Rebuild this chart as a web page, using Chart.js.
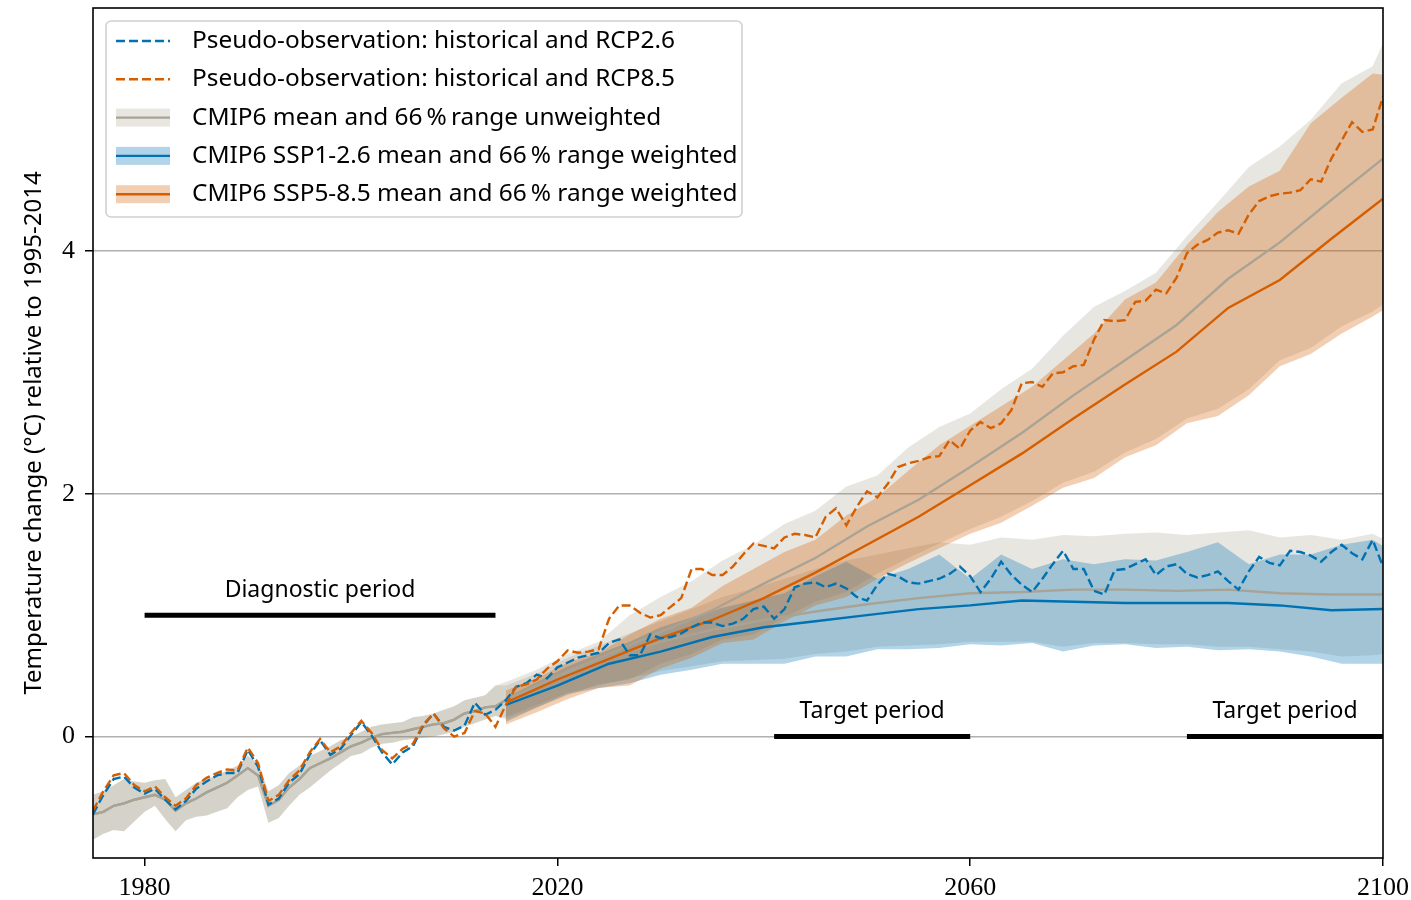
<!DOCTYPE html>
<html>
<head>
<meta charset="utf-8">
<title>Temperature change</title>
<script src="https://cdn.jsdelivr.net/npm/chart.js@4.4.1/dist/chart.umd.min.js"></script>
<style>
  html, body { margin: 0; padding: 0; background: #fff; }
  canvas { display: block; }
</style>
</head>
<body>
<canvas id="chart" width="1411" height="900"></canvas>
<script>
// Jahre / Achsen
function yearsFrom(start, end, step) {
    const out = [];
    for (let y = start; y <= end; y += step) out.push(y);
    return out;
}
const HIST_YEARS = yearsFrom(1975, 2014, 1);
const OBS_YEARS = yearsFrom(1975, 2100, 1);
const MEAN_YEARS = yearsFrom(2015, 2100, 5);
const BAND_YEARS = [2015, 2018, 2021, 2024, 2027, 2030, 2033, 2036, 2039, 2042,
                    2045, 2048, 2051, 2054, 2057, 2060, 2063, 2066, 2069, 2072,
                    2075, 2078, 2081, 2084, 2087, 2090, 2093, 2096, 2099, 2100];
const X_TICKS = [1980, 2020, 2060, 2100];
const Y_TICKS = [0, 2, 4];

// CMIP6 unweighted, historical part (shared by both scenarios)
const GRAY_HIST_MEAN = [-0.64, -0.62, -0.57, -0.55, -0.52, -0.50, -0.48, -0.52, -0.61, -0.55,
                        -0.51, -0.46, -0.42, -0.38, -0.32, -0.26, -0.32, -0.57, -0.52, -0.42,
                        -0.35, -0.26, -0.22, -0.18, -0.13, -0.08, -0.05, -0.01, 0.02, 0.03,
                        0.04, 0.06, 0.08, 0.10, 0.11, 0.14, 0.19, 0.21, 0.24, 0.25];
const GRAY_HIST_HI = [-0.48, -0.45, -0.40, -0.35, -0.37, -0.38, -0.36, -0.35, -0.50, -0.44,
                      -0.38, -0.35, -0.32, -0.28, -0.24, -0.16, -0.22, -0.45, -0.40, -0.30,
                      -0.24, -0.16, -0.12, -0.08, -0.03, 0.00, 0.04, 0.08, 0.10, 0.11,
                      0.12, 0.16, 0.17, 0.19, 0.22, 0.25, 0.30, 0.32, 0.34, 0.42];
const GRAY_HIST_LO = [-0.85, -0.80, -0.77, -0.78, -0.70, -0.62, -0.57, -0.68, -0.78, -0.69,
                      -0.66, -0.65, -0.62, -0.59, -0.50, -0.44, -0.41, -0.71, -0.67, -0.57,
                      -0.48, -0.42, -0.35, -0.28, -0.22, -0.16, -0.14, -0.09, -0.06, -0.05,
                      -0.03, -0.02, -0.01, 0.00, 0.02, 0.04, 0.08, 0.11, 0.14, 0.17];

// Pseudo-observations 1975-2100
const OBS_RCP26 = [-0.64, -0.48, -0.35, -0.33, -0.42, -0.47, -0.43, -0.52, -0.60, -0.53,
                   -0.43, -0.37, -0.32, -0.30, -0.30, -0.11, -0.25, -0.56, -0.51, -0.38,
                   -0.31, -0.15, -0.03, -0.15, -0.10, 0.01, 0.12, 0.01, -0.13, -0.23,
                   -0.13, -0.08, 0.09, 0.19, 0.08, 0.05, 0.09, 0.28, 0.18, 0.22,
                   0.30, 0.41, 0.44, 0.51, 0.48, 0.57, 0.61, 0.65, 0.67, 0.69,
                   0.77, 0.80, 0.67, 0.67, 0.84, 0.81, 0.82, 0.85, 0.90, 0.94,
                   0.94, 0.91, 0.93, 0.97, 1.05, 1.07, 0.97, 1.05, 1.23, 1.26,
                   1.27, 1.23, 1.26, 1.22, 1.15, 1.12, 1.25, 1.34, 1.32, 1.27,
                   1.26, 1.28, 1.30, 1.34, 1.40, 1.32, 1.19, 1.30, 1.44, 1.33,
                   1.25, 1.19, 1.30, 1.42, 1.53, 1.38, 1.38, 1.20, 1.17, 1.37,
                   1.38, 1.42, 1.46, 1.33, 1.40, 1.42, 1.34, 1.31, 1.33, 1.36,
                   1.28, 1.21, 1.36, 1.48, 1.43, 1.41, 1.53, 1.52, 1.49, 1.44,
                   1.52, 1.58, 1.51, 1.46, 1.62, 1.40];
const OBS_RCP85 = [-0.61, -0.45, -0.32, -0.30, -0.40, -0.45, -0.41, -0.50, -0.57, -0.51,
                   -0.40, -0.34, -0.30, -0.27, -0.28, -0.09, -0.22, -0.53, -0.48, -0.36,
                   -0.28, -0.13, -0.02, -0.13, -0.08, 0.03, 0.13, 0.03, -0.11, -0.18,
                   -0.10, -0.06, 0.10, 0.19, 0.07, 0.00, 0.03, 0.21, 0.19, 0.08,
                   0.26, 0.41, 0.43, 0.47, 0.56, 0.62, 0.71, 0.69, 0.70, 0.72,
                   0.97, 1.08, 1.08, 1.02, 0.98, 1.00, 1.07, 1.14, 1.38, 1.38,
                   1.33, 1.33, 1.40, 1.50, 1.59, 1.57, 1.55, 1.64, 1.67, 1.66,
                   1.64, 1.81, 1.88, 1.74, 1.89, 2.02, 1.97, 2.08, 2.22, 2.25,
                   2.27, 2.30, 2.31, 2.44, 2.37, 2.52, 2.59, 2.54, 2.58, 2.69,
                   2.91, 2.92, 2.88, 2.99, 3.00, 3.05, 3.06, 3.27, 3.43, 3.42,
                   3.43, 3.58, 3.59, 3.68, 3.65, 3.78, 3.98, 4.05, 4.09, 4.15,
                   4.17, 4.14, 4.30, 4.41, 4.45, 4.47, 4.48, 4.50, 4.59, 4.57,
                   4.76, 4.91, 5.06, 4.98, 5.00, 5.27];

// Means 2015-2100 (every 5 years)
const GRAY85_MEAN = [0.30, 0.50, 0.68, 0.86, 1.04, 1.26, 1.47, 1.73, 1.95, 2.22, 2.50, 2.81, 3.10, 3.39, 3.77, 4.07, 4.42, 4.76];
const GRAY26_MEAN = [0.30, 0.48, 0.65, 0.78, 0.88, 0.96, 1.03, 1.09, 1.14, 1.18, 1.19, 1.21, 1.21, 1.20, 1.21, 1.18, 1.17, 1.17];
const SSP585_MEAN = [0.28, 0.47, 0.64, 0.81, 0.96, 1.14, 1.35, 1.58, 1.81, 2.07, 2.33, 2.62, 2.90, 3.17, 3.53, 3.76, 4.10, 4.43];
const SSP126_MEAN = [0.26, 0.42, 0.60, 0.70, 0.82, 0.90, 0.95, 1.00, 1.05, 1.08, 1.12, 1.11, 1.10, 1.10, 1.10, 1.08, 1.04, 1.05];

// 66 % ranges 2015-2100 (BAND_YEARS)
const GRAY85_LO = [0.14, 0.24, 0.34, 0.43, 0.47, 0.60, 0.68, 0.80, 0.84, 0.98, 1.11, 1.19, 1.34, 1.47, 1.59,
                   1.71, 1.81, 1.94, 2.09, 2.18, 2.34, 2.45, 2.62, 2.70, 2.86, 3.10, 3.20, 3.38, 3.50, 3.56];
const GRAY85_HI = [0.45, 0.55, 0.68, 0.78, 1.00, 1.15, 1.28, 1.45, 1.58, 1.75, 1.86, 2.06, 2.15, 2.38, 2.55,
                   2.66, 2.86, 3.03, 3.30, 3.54, 3.67, 3.82, 4.12, 4.40, 4.69, 4.86, 5.08, 5.38, 5.52, 5.71];
const GRAY26_LO = [0.16, 0.26, 0.36, 0.42, 0.48, 0.54, 0.58, 0.62, 0.63, 0.64, 0.68, 0.70, 0.74, 0.75, 0.76,
                   0.78, 0.78, 0.78, 0.74, 0.77, 0.77, 0.76, 0.76, 0.74, 0.74, 0.72, 0.70, 0.66, 0.67, 0.68];
const GRAY26_HI = [0.42, 0.52, 0.65, 0.75, 0.85, 0.95, 1.05, 1.15, 1.22, 1.30, 1.38, 1.45, 1.50, 1.55, 1.60,
                   1.58, 1.64, 1.62, 1.66, 1.65, 1.67, 1.68, 1.66, 1.68, 1.70, 1.64, 1.66, 1.62, 1.67, 1.63];
const SSP585_LO = [0.10, 0.20, 0.31, 0.40, 0.42, 0.56, 0.65, 0.77, 0.80, 0.95, 1.08, 1.15, 1.30, 1.43, 1.55,
                   1.67, 1.76, 1.90, 2.05, 2.13, 2.30, 2.40, 2.58, 2.64, 2.81, 3.05, 3.15, 3.32, 3.46, 3.51];
const SSP585_HI = [0.38, 0.48, 0.61, 0.69, 0.84, 0.97, 1.06, 1.24, 1.38, 1.52, 1.62, 1.82, 1.97, 2.19, 2.40,
                   2.56, 2.72, 2.88, 3.10, 3.32, 3.60, 3.74, 4.05, 4.32, 4.53, 4.66, 5.05, 5.26, 5.46, 5.45];
const SSP126_LO = [0.12, 0.24, 0.35, 0.40, 0.44, 0.51, 0.55, 0.60, 0.60, 0.60, 0.66, 0.66, 0.72, 0.72, 0.73,
                   0.76, 0.75, 0.77, 0.70, 0.75, 0.76, 0.73, 0.74, 0.71, 0.72, 0.70, 0.66, 0.60, 0.60, 0.60];
const SSP126_HI = [0.32, 0.45, 0.58, 0.68, 0.78, 0.90, 0.98, 1.06, 1.12, 1.18, 1.32, 1.44, 1.30, 1.38, 1.50,
                   1.30, 1.50, 1.38, 1.46, 1.42, 1.46, 1.45, 1.52, 1.60, 1.42, 1.50, 1.50, 1.58, 1.62, 1.57];

// Perioden
const PERIOD_LABELS = ['Diagnostic period', 'Target period', 'Target period'];
const PERIOD_START = [1980, 2041, 2081];
const PERIOD_END = [2014, 2060, 2100];
const PERIOD_Y = [1, 0, 0];

const LEGEND_LABELS = [
    'Pseudo-observation: historical and RCP2.6',
    'Pseudo-observation: historical and RCP8.5',
    'CMIP6 mean and 66\u2009%\u2009range unweighted',
    'CMIP6 SSP1-2.6 mean and 66\u2009% range weighted',
    'CMIP6 SSP5-8.5 mean and 66\u2009% range weighted'
];
const Y_TITLE = 'Temperature change (\u00B0C) relative to 1995-2014';

// Farben
const BLUE = '#0072B2';
const ORANGE = '#D55E00';
const GRAY_LINE = '#a9a396';
const GRAY_FILL = 'rgba(140,135,115,0.21)';
const BLUE_FILL = 'rgba(0,114,178,0.3)';
const ORANGE_FILL = 'rgba(213,94,0,0.3)';
const SANS = '"Noto Sans", "DejaVu Sans", sans-serif';
const SERIF = '"Liberation Serif", "DejaVu Serif", serif';

function points(xs, ys) {
    return xs.map((x, i) => ({ x: x, y: ys[i] }));
}

function band(label, xs, lo, hi, fill, order) {
    return [
        { label: label + ' lo', data: points(xs, lo), borderColor: 'transparent', borderWidth: 0, fill: false, order: order },
        { label: label + ' hi', data: points(xs, hi), borderColor: 'transparent', borderWidth: 0, fill: '-1', backgroundColor: fill, order: order }
    ];
}

function line(label, data, color, width, dash, order) {
    return { label: label, data: data, borderColor: color, borderWidth: width, borderDash: dash, fill: false, order: order };
}

// order: hoher Wert = weiter hinten
const datasets = [].concat(
    band('unweighted SSP5-8.5', HIST_YEARS.concat(BAND_YEARS), GRAY_HIST_LO.concat(GRAY85_LO), GRAY_HIST_HI.concat(GRAY85_HI), GRAY_FILL, 20),
    band('unweighted SSP1-2.6', HIST_YEARS.concat(BAND_YEARS), GRAY_HIST_LO.concat(GRAY26_LO), GRAY_HIST_HI.concat(GRAY26_HI), GRAY_FILL, 19),
    band('weighted SSP1-2.6', BAND_YEARS, SSP126_LO, SSP126_HI, BLUE_FILL, 18),
    band('weighted SSP5-8.5', BAND_YEARS, SSP585_LO, SSP585_HI, ORANGE_FILL, 17),
    [
        line('unweighted mean SSP5-8.5', points(HIST_YEARS.concat(MEAN_YEARS), GRAY_HIST_MEAN.concat(GRAY85_MEAN)), GRAY_LINE, 2.4, [], 10),
        line('unweighted mean SSP1-2.6', points(HIST_YEARS.concat(MEAN_YEARS), GRAY_HIST_MEAN.concat(GRAY26_MEAN)), GRAY_LINE, 2.4, [], 10),
        line('weighted mean SSP5-8.5', points(MEAN_YEARS, SSP585_MEAN), ORANGE, 2.4, [], 9),
        line('weighted mean SSP1-2.6', points(MEAN_YEARS, SSP126_MEAN), BLUE, 2.4, [], 9),
        line('obs RCP2.6', points(OBS_YEARS, OBS_RCP26), BLUE, 2.4, [9, 4], 5),
        line('obs RCP8.5', points(OBS_YEARS, OBS_RCP85), ORANGE, 2.4, [9, 4], 4)
    ],
    PERIOD_LABELS.map((lab, i) => line(lab, [{ x: PERIOD_START[i], y: PERIOD_Y[i] }, { x: PERIOD_END[i], y: PERIOD_Y[i] }], '#000', 5, [], 2))
);

// Rahmen um die Zeichenfläche
const framePlugin = {
    id: 'frame',
    afterDatasetsDraw(chart) {
        const a = chart.chartArea;
        const ctx = chart.ctx;
        ctx.save();
        ctx.strokeStyle = '#000';
        ctx.lineWidth = 1.6;
        ctx.strokeRect(a.left, a.top, a.right - a.left, a.bottom - a.top);
        ctx.restore();
    }
};

// Beschriftung der Perioden
const periodTextPlugin = {
    id: 'periodText',
    afterDatasetsDraw(chart) {
        const ctx = chart.ctx;
        const xs = chart.scales.x, ys = chart.scales.y;
        ctx.save();
        ctx.fillStyle = '#000';
        ctx.font = '23px ' + SANS;
        ctx.textAlign = 'center';
        ctx.textBaseline = 'middle';
        PERIOD_LABELS.forEach((lab, i) => {
            const cx = xs.getPixelForValue((PERIOD_START[i] + PERIOD_END[i]) / 2);
            const cy = ys.getPixelForValue(PERIOD_Y[i]) - 25;
            ctx.fillText(lab, cx, cy);
        });
        ctx.restore();
    }
};

// Legende innerhalb der Zeichenfläche
const LEGEND_STYLE = [
    { kind: 'dash', color: BLUE },
    { kind: 'dash', color: ORANGE },
    { kind: 'band', color: GRAY_LINE, fill: GRAY_FILL },
    { kind: 'band', color: BLUE, fill: BLUE_FILL },
    { kind: 'band', color: ORANGE, fill: ORANGE_FILL }
];

const legendPlugin = {
    id: 'boxLegend',
    afterDraw(chart) {
        const ctx = chart.ctx;
        const a = chart.chartArea;
        const x0 = a.left + 13, y0 = a.top + 13, w = 636, h = 196;
        ctx.save();
        ctx.beginPath();
        ctx.roundRect(x0, y0, w, h, 5);
        ctx.fillStyle = 'rgba(255,255,255,0.8)';
        ctx.fill();
        ctx.strokeStyle = '#d0d0d0';
        ctx.lineWidth = 1.6;
        ctx.stroke();

        ctx.font = '24.4px ' + SANS;
        ctx.textBaseline = 'middle';
        LEGEND_LABELS.forEach((lab, i) => {
            const st = LEGEND_STYLE[i];
            const cy = y0 + 20 + i * 38.3;
            if (st.kind === 'band') {
                ctx.fillStyle = st.fill;
                ctx.fillRect(x0 + 10, cy - 9, 54, 18);
            }
            ctx.beginPath();
            ctx.setLineDash(st.kind === 'dash' ? [9, 4] : []);
            ctx.strokeStyle = st.color;
            ctx.lineWidth = 2.4;
            ctx.moveTo(x0 + 10, cy);
            ctx.lineTo(x0 + 64, cy);
            ctx.stroke();
            ctx.setLineDash([]);
            ctx.fillStyle = '#000';
            ctx.fillText(lab, x0 + 86, cy);
        });
        ctx.restore();
    }
};

const chart = new Chart(document.getElementById('chart'), {
    type: 'line',
    data: { datasets: datasets },
    options: {
        responsive: false,
        devicePixelRatio: 1,
        animation: false,
        elements: { point: { radius: 0 }, line: { tension: 0, borderCapStyle: 'butt' } },
        layout: { padding: { top: 8, right: 28, left: 0, bottom: 0 } },
        plugins: { legend: { display: false }, tooltip: { enabled: false } },
        scales: {
            x: {
                type: 'linear',
                min: 1975,
                max: 2100,
                afterBuildTicks: s => { s.ticks = X_TICKS.map(v => ({ value: v })); },
                afterFit: s => { s.height = 42; s.paddingLeft = 0; s.paddingRight = 0; },
                grid: { drawOnChartArea: false, tickLength: 8, tickColor: '#000', lineWidth: 1.5 },
                border: { display: false },
                ticks: { color: '#000', font: { family: SERIF, size: 26 }, padding: 7, maxRotation: 0, callback: v => String(v) }
            },
            y: {
                type: 'linear',
                min: -1,
                max: 6,
                afterBuildTicks: s => { s.ticks = Y_TICKS.map(v => ({ value: v })); },
                afterFit: s => { s.width = 93; s.paddingTop = 0; s.paddingBottom = 0; },
                grid: { color: '#b0b0b0', lineWidth: 1.5, tickColor: '#000', tickLength: 8 },
                border: { display: false },
                ticks: { color: '#000', font: { family: SERIF, size: 26 }, padding: 10, callback: v => String(v) },
                title: { display: true, text: Y_TITLE, color: '#000', font: { family: SANS, size: 24 }, padding: { top: 20, bottom: 0 } }
            }
        }
    },
    plugins: [framePlugin, periodTextPlugin, legendPlugin]
});
</script>
</body>
</html>
